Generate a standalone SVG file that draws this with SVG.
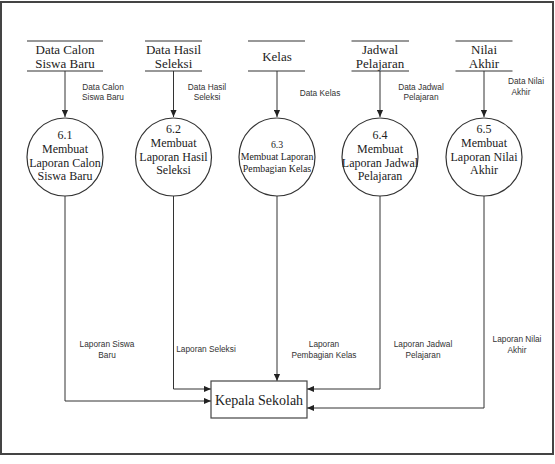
<svg xmlns="http://www.w3.org/2000/svg" width="555" height="464" viewBox="0 0 555 464">
<defs>
<marker id="ah" viewBox="0 0 8 8" refX="8" refY="4" markerWidth="7" markerHeight="7" markerUnits="userSpaceOnUse" orient="auto">
<path d="M0,0.5 L8,4 L0,7.5 z" fill="#222"/>
</marker>
<style>
.frame{fill:#fff;stroke:#444;stroke-width:2}
.store{stroke:#333;stroke-width:1.2;fill:none}
.serif{font-family:'Liberation Serif','Times New Roman',Tinos,'DejaVu Serif',serif}
.sans{font-family:'Liberation Sans',Arial,Arimo,'DejaVu Sans',sans-serif}
.st{font-size:13px;fill:#222;text-anchor:middle}
.proc{fill:#fff;stroke:#333;stroke-width:1.2}
.pt{font-size:12px;fill:#222;text-anchor:middle}
.pts{font-size:9.8px;fill:#222;text-anchor:middle}
.ent{fill:#fff;stroke:#444;stroke-width:1.2}
.et{font-size:14px;fill:#222;text-anchor:middle}
.fl{stroke:#333;stroke-width:1;fill:none;marker-end:url(#ah)}
.lb{font-size:8.3px;fill:#333;text-anchor:middle}
</style>
</defs>
<rect class="frame" x="1" y="2" width="552" height="452"/>

<g id="connectors">
<line class="fl" x1="65" y1="71" x2="65" y2="117"/>
<line class="fl" x1="173.5" y1="71" x2="173.5" y2="117"/>
<line class="fl" x1="277" y1="71" x2="277" y2="117"/>
<line class="fl" x1="380" y1="71" x2="380" y2="117"/>
<line class="fl" x1="484" y1="71" x2="484" y2="117"/>
<polyline class="fl" points="65,196 65,401 211,401"/>
<polyline class="fl" points="173.5,196 173.5,389 211,389"/>
<line class="fl" x1="277" y1="196" x2="277" y2="381"/>
<polyline class="fl" points="380,196 380,389 307,389"/>
<polyline class="fl" points="484,196 484,408 307,408"/>
<g class="sans lb">
<text><tspan x="103" y="89.5">Data Calon</tspan><tspan x="103" y="100">Siswa Baru</tspan></text>
<text><tspan x="207" y="89.5">Data Hasil</tspan><tspan x="207" y="100">Seleksi</tspan></text>
<text x="320" y="95.5">Data Kelas</text>
<text><tspan x="421" y="89.5">Data Jadwal</tspan><tspan x="421" y="100">Pelajaran</tspan></text>
<text><tspan x="526" y="84">Data Nilai</tspan><tspan x="521" y="95">Akhir</tspan></text>
<text><tspan x="107" y="347">Laporan Siswa</tspan><tspan x="107" y="357.5">Baru</tspan></text>
<text x="206" y="352">Laporan Seleksi</text>
<text><tspan x="324" y="347">Laporan</tspan><tspan x="324" y="357.5">Pembagian Kelas</tspan></text>
<text><tspan x="423" y="347">Laporan Jadwal</tspan><tspan x="423" y="357.5">Pelajaran</tspan></text>
<text><tspan x="517" y="342">Laporan Nilai</tspan><tspan x="517" y="352.5">Akhir</tspan></text>
</g>
</g>

<g id="store-calon">
<line class="store" x1="27" y1="41" x2="103" y2="41"/>
<line class="store" x1="27" y1="71" x2="103" y2="71"/>
<text class="serif st"><tspan x="65" y="54">Data Calon</tspan><tspan x="65" y="68">Siswa Baru</tspan></text>
</g>
<g id="store-hasil">
<line class="store" x1="145" y1="41" x2="202" y2="41"/>
<line class="store" x1="145" y1="71" x2="202" y2="71"/>
<text class="serif st"><tspan x="173.5" y="54">Data Hasil</tspan><tspan x="173.5" y="68">Seleksi</tspan></text>
</g>
<g id="store-kelas">
<line class="store" x1="248" y1="41" x2="305" y2="41"/>
<line class="store" x1="248" y1="71" x2="305" y2="71"/>
<text class="serif st" x="277" y="61">Kelas</text>
</g>
<g id="store-jadwal">
<line class="store" x1="351.5" y1="41" x2="409" y2="41"/>
<line class="store" x1="351.5" y1="71" x2="409" y2="71"/>
<text class="serif st"><tspan x="380" y="54">Jadwal</tspan><tspan x="380" y="68">Pelajaran</tspan></text>
</g>
<g id="store-nilai">
<line class="store" x1="455.5" y1="41" x2="512.5" y2="41"/>
<line class="store" x1="455.5" y1="71" x2="512.5" y2="71"/>
<text class="serif st"><tspan x="484" y="54">Nilai</tspan><tspan x="484" y="68">Akhir</tspan></text>
</g>

<g id="p61">
<ellipse class="proc" cx="65" cy="157" rx="38" ry="39"/>
<text class="serif pt"><tspan x="65" y="139">6.1</tspan><tspan x="65" y="153">Membuat</tspan><tspan x="65" y="167">Laporan Calon</tspan><tspan x="65" y="180">Siswa Baru</tspan></text>
</g>
<g id="p62">
<ellipse class="proc" cx="173.5" cy="157" rx="38" ry="39"/>
<text class="serif pt"><tspan x="173.5" y="133">6.2</tspan><tspan x="173.5" y="147">Membuat</tspan><tspan x="173.5" y="160.5">Laporan Hasil</tspan><tspan x="173.5" y="174">Seleksi</tspan></text>
</g>
<g id="p63">
<ellipse class="proc" cx="277" cy="157" rx="38" ry="39"/>
<text class="serif pts"><tspan x="277" y="148">6.3</tspan><tspan x="277" y="160">Membuat Laporan</tspan><tspan x="277" y="171.5">Pembagian Kelas</tspan></text>
</g>
<g id="p64">
<ellipse class="proc" cx="380" cy="157" rx="38" ry="39"/>
<text class="serif pt"><tspan x="380" y="139">6.4</tspan><tspan x="380" y="153">Membuat</tspan><tspan x="380" y="167">Laporan Jadwal</tspan><tspan x="380" y="180">Pelajaran</tspan></text>
</g>
<g id="p65">
<ellipse class="proc" cx="484" cy="157" rx="38" ry="39"/>
<text class="serif pt"><tspan x="484" y="133">6.5</tspan><tspan x="484" y="147">Membuat</tspan><tspan x="484" y="160.5">Laporan Nilai</tspan><tspan x="484" y="174">Akhir</tspan></text>
</g>

<g id="kepala-sekolah">
<rect class="ent" x="211" y="381" width="96" height="37"/>
<text class="serif et" x="259" y="404.5">Kepala Sekolah</text>
</g>
</svg>
